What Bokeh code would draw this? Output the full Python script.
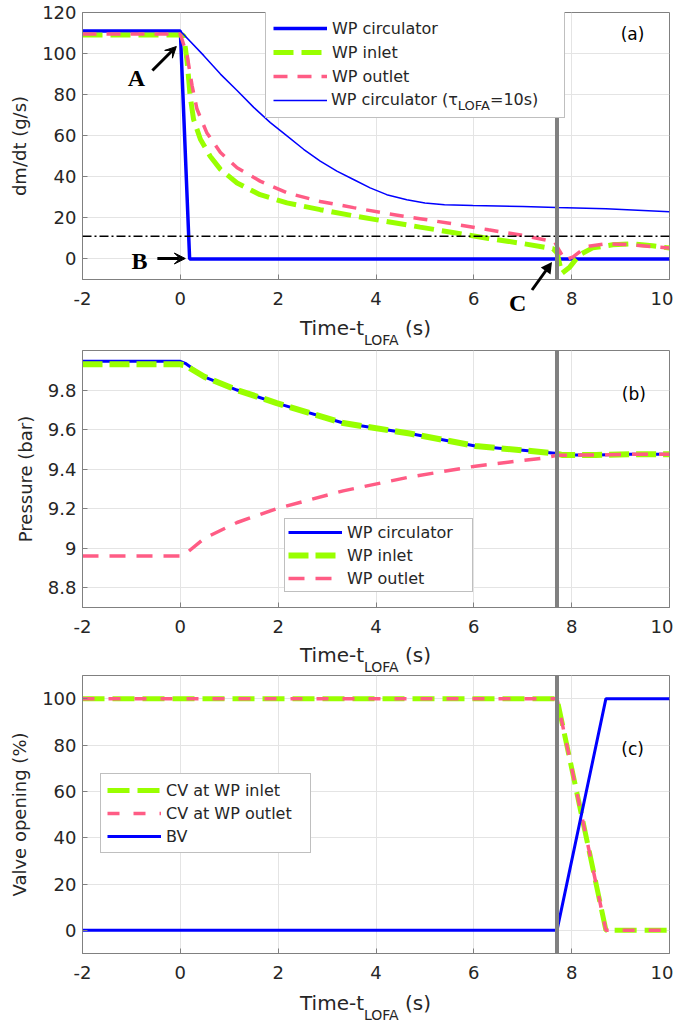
from bokeh.plotting import figure
from bokeh.models import (Range1d, FixedTicker, Span, Label, Arrow, VeeHead,
                          Legend, LegendItem, Div)
from bokeh.layouts import column
from bokeh.embed import file_html
from bokeh.resources import INLINE

# ---------------- data ----------------
time_ticks = [-2, 0, 2, 4, 6, 8, 10]
time_tick_labels = ["-2", "0", "2", "4", "6", "8", "10"]
mdot_ticks = [0, 20, 40, 60, 80, 100, 120]
mdot_tick_labels = ["0", "20", "40", "60", "80", "100", "120"]
pressure_ticks = [8.8, 9, 9.2, 9.4, 9.6, 9.8]
pressure_tick_labels = ["8.8", "9", "9.2", "9.4", "9.6", "9.8"]
valve_ticks = [0, 20, 40, 60, 80, 100]
valve_tick_labels = ["0", "20", "40", "60", "80", "100"]

t_bypass = 7.7
mdot_threshold = 11

# (a) mass flow rate
t_circ = [-2, 0, 0.19, 10]
mdot_circ = [111, 111, 0, 0]
t_inlet = [-2, 0, 0.07, 0.14, 0.2, 0.27, 0.41, 0.61, 0.82, 1.16, 1.63, 2.18, 2.86,
           3.54, 4.2, 4.9, 5.6, 6.3, 7.0, 7.62, 7.7, 7.8, 7.96, 8.16, 8.43, 8.84,
           9.24, 9.65, 10]
mdot_inlet = [109, 109, 108.9, 95.8, 79.5, 68, 58.3, 50, 43.6, 37, 31.3, 27.3, 24,
              21, 18.3, 15.5, 12.8, 10, 7.5, 5, 3, -7, -4, 2, 5.4, 6.9,
              7.4, 6.4, 5.3]
t_outlet = [-2, 0, 0.14, 0.24, 0.34, 0.54, 0.82, 1.16, 1.63, 2.18, 2.86, 3.54, 4.2,
            4.9, 5.6, 6.3, 7.0, 7.65, 7.75, 7.86, 8.03, 8.3, 8.71, 9.24, 10]
mdot_outlet = [109.5, 109.5, 99, 84.4, 73, 61.5, 51.8, 44.4, 37.9, 32.2, 28, 25, 22.2,
               19.6, 17, 14.2, 11.5, 8.4, 4, -0.5, 1, 6, 7.4, 6.9, 5.3]
t_tau = [-2, 0, 0.48, 0.82, 1.16, 1.5, 1.84, 2.18, 2.52, 2.86, 3.2, 3.54, 3.88, 4.22,
         4.63, 5.0, 5.4, 5.98, 7.0, 7.69, 8.7, 10]
mdot_tau = [111, 111, 99, 90, 82, 73.8, 66.4, 59.9, 53.4, 47.6, 42.8, 38.7, 34.6, 31.3,
            28.8, 27.3, 26.4, 26, 25.5, 25, 24.5, 23]

# (b) pressure
t_p = [-2, 0, 0.1, 0.49, 1.16, 1.97, 3.33, 4.69, 6.03, 7.0, 7.66, 7.8, 8.5, 9.2, 10]
p_circ = [9.945, 9.945, 9.935, 9.867, 9.8, 9.734, 9.633, 9.58, 9.517, 9.495, 9.48,
          9.472, 9.472, 9.475, 9.475]
p_inlet = [9.93, 9.93, 9.925, 9.867, 9.8, 9.734, 9.633, 9.58, 9.517, 9.495, 9.48,
           9.472, 9.472, 9.475, 9.475]
t_p_out = [-2, 0, 0.1, 0.49, 1.16, 1.97, 3.33, 4.69, 6.03, 7.39, 7.7, 8.5, 9.2, 10]
p_outlet = [8.96, 8.96, 8.97, 9.05, 9.13, 9.2, 9.29, 9.36, 9.415, 9.455, 9.47,
            9.472, 9.475, 9.475]

# (c) valve opening
t_valve = [-2, 7.7, 8.7, 10]
cv_inlet = [100, 100, 0, 0]
cv_outlet = [100, 100, 0, 0]
bv_open = [0, 0, 100, 100]

# ---------------- style ----------------
FONT = "DejaVu Sans"
BLUE = "#0000FF"
GREEN = "#99FF00"
PINK = "#FF5C85"
AX = "#808080"
TXT = "#262626"
W = 673


def make_fig(height, top, bottom, left, right, yr, yticks, ylabels, ylabel):
    p = figure(width=W, height=height, x_range=Range1d(-2, 10), y_range=Range1d(*yr),
               output_backend="svg", toolbar_location=None,
               min_border_top=top, min_border_bottom=bottom,
               min_border_left=left, min_border_right=right, margin=0)
    p.xaxis.ticker = FixedTicker(ticks=time_ticks)
    p.xaxis.major_label_overrides = dict(zip(time_ticks, time_tick_labels))
    p.yaxis.ticker = FixedTicker(ticks=yticks)
    p.yaxis.major_label_overrides = dict(zip(yticks, ylabels))
    for ax in (p.xaxis, p.yaxis):
        ax.major_label_text_font = FONT
        ax.major_label_text_font_size = "18px"
        ax.major_label_text_color = TXT
        ax.major_tick_in = 5
        ax.major_tick_out = 0
        ax.minor_tick_in = 0
        ax.minor_tick_out = 0
        ax.major_tick_line_color = AX
        ax.axis_line_color = AX
    p.xaxis.major_label_standoff = 12
    p.yaxis.major_label_standoff = 6
    p.yaxis.axis_label = ylabel
    p.yaxis.axis_label_text_font = FONT
    p.yaxis.axis_label_text_font_size = "18px"
    p.yaxis.axis_label_text_font_style = "normal"
    p.yaxis.axis_label_text_color = TXT
    p.yaxis.axis_label_standoff = 9
    p.grid.grid_line_color = "#e4e4e4"
    p.outline_line_color = AX
    p.outline_line_alpha = 1
    return p


def to_data(geom, px, py):
    l, r, t, b, x0, x1, y0, y1 = geom
    return x0 + (px - l) / (r - l) * (x1 - x0), y0 + (b - py) / (b - t) * (y1 - y0)


def xlabel_div(height, top, extra=""):
    html = ('<div style="position:relative;width:%dpx;height:%dpx;overflow:visible;">'
            '<span style="position:absolute;left:300px;top:%dpx;white-space:nowrap;'
            "font-family:'DejaVu Sans';font-size:20px;line-height:20px;color:#262626;\">"
            'Time-t<sub style="font-size:14px;vertical-align:baseline;position:relative;'
            'top:10px;">LOFA</sub> (s)</span>%s</div>') % (W, height, top, extra)
    return Div(text=html, width=W, height=height, margin=0,
               styles={"overflow": "visible"})


def add_tag(p, geom, px, py, text):
    x, y = to_data(geom, px, py)
    p.add_layout(Label(x=x, y=y, text=text, text_align="center", text_baseline="middle",
                       text_font=FONT, text_font_size="17px", text_color="black"))


def make_legend(items, loc, padding, spacing, label_width):
    return Legend(items=items, location=loc, margin=0, padding=padding, spacing=spacing,
                  glyph_width=54, glyph_height=20, label_height=20, label_standoff=5,
                  label_width=label_width,
                  label_text_font=FONT, label_text_font_size="16px", label_text_color=TXT,
                  border_line_color=AX, border_line_width=1, background_fill_alpha=1)


# ---------------- panel (a) ----------------
GA = (82, 670, 12, 279, -2, 10, -10, 120)
pa = make_fig(315, 12, 36, 82, 3, (-10, 120), mdot_ticks, mdot_tick_labels, "dm/dt (g/s)")
ra1 = pa.line(t_circ, mdot_circ, line_color=BLUE, line_width=3.5)
ra2 = pa.line(t_inlet, mdot_inlet, line_color=GREEN, line_width=5, line_dash="20 8")
ra3 = pa.line(t_outlet, mdot_outlet, line_color=PINK, line_width=3.5, line_dash="14 10")
ra4 = pa.line(t_tau, mdot_tau, line_color=BLUE, line_width=1.5)
pa.add_layout(Span(location=mdot_threshold, dimension="width", line_color="black",
                   line_width=1.5, line_dash="9 3 2 3"))
pa.add_layout(Span(location=t_bypass, dimension="height", line_color="#808080", line_width=4))
pa.add_layout(make_legend([LegendItem(label="WP circulator", renderers=[ra1]),
                           LegendItem(label="WP inlet", renderers=[ra2]),
                           LegendItem(label="WP outlet", renderers=[ra3]),
                           LegendItem(label=" ", renderers=[ra4])],
                          (183, 161), 7, 4, 225))
add_tag(pa, GA, 633, 33, "(a)")

# annotations A, B (inside the frame)
for (lx, ly, txt, sx, sy, ex, ey) in [(136, 77, "A", 152, 70, 176, 46),
                                      (139, 260, "B", 157, 258, 185, 258)]:
    x, y = to_data(GA, lx, ly)
    pa.add_layout(Label(x=x, y=y, text=txt, text_align="center", text_baseline="middle",
                        text_font="Liberation Serif", text_font_style="bold",
                        text_font_size="24px", text_color="black"))
    x0, y0 = to_data(GA, sx, sy)
    x1, y1 = to_data(GA, ex, ey)
    pa.add_layout(Arrow(x_start=x0, y_start=y0, x_end=x1, y_end=y1, line_width=3,
                        line_color="black",
                        end=VeeHead(size=11, fill_color="black", line_color="black")))

# HTML overlays drawn from the strip below panel (a):
# the 4th legend label (with subscript), and "C" with its arrow below the frame
legend4 = ('<span style="position:absolute;left:331px;top:-223px;white-space:nowrap;'
           "font-family:'DejaVu Sans';font-size:16px;line-height:16px;color:#262626;\">"
           'WP circulator (\u03c4<sub style="font-size:13px;vertical-align:baseline;'
           'position:relative;top:5px;">LOFA</sub>=10s)</span>')
c_extra = ('<span style="position:absolute;left:509px;top:-24px;font-family:\'Liberation Serif\';'
           'font-weight:bold;font-size:24px;line-height:24px;color:black;">C</span>'
           '<svg style="position:absolute;left:0px;top:0px;overflow:visible;" width="1" height="1">'
           '<line x1="532" y1="-25" x2="546" y2="-44.5" stroke="black" stroke-width="3"/>'
           '<polygon points="552,-53 550.5,-40.5 540.8,-47.5" fill="black"/></svg>')
da = xlabel_div(33, 3, legend4 + c_extra)

# ---------------- panel (b) ----------------
GB = (77, 669, 350, 607, -2, 10, 8.7, 10.0)
pb = make_fig(295, 2, 36, 77, 4, (8.7, 10.0), pressure_ticks, pressure_tick_labels,
              "Pressure (bar)")
rb1 = pb.line(t_p, p_circ, line_color=BLUE, line_width=3)
rb2 = pb.line(t_p, p_inlet, line_color=GREEN, line_width=6, line_dash="20 7")
rb3 = pb.line(t_p_out, p_outlet, line_color=PINK, line_width=3.5, line_dash="16 11")
pb.add_layout(Span(location=t_bypass, dimension="height", line_color="#808080", line_width=4))
pb.add_layout(make_legend([LegendItem(label="WP circulator", renderers=[rb1]),
                           LegendItem(label="WP inlet", renderers=[rb2]),
                           LegendItem(label="WP outlet", renderers=[rb3])],
                          (202, 15), 3, 3, 122))
add_tag(pb, GB, 633, 393, "(b)")
db = xlabel_div(31, 2)

# ---------------- panel (c) ----------------
GC = (82, 670, 675, 953, -2, 10, -10, 110)
pc = make_fig(315, 1, 36, 82, 3, (-10, 110), valve_ticks, valve_tick_labels,
              "Valve opening (%)")
rc1 = pc.line(t_valve, cv_inlet, line_color=GREEN, line_width=5, line_dash="22 8")
rc2 = pc.line(t_valve, cv_outlet, line_color=PINK, line_width=3.5, line_dash="12 14")
rc3 = pc.line(t_valve, bv_open, line_color=BLUE, line_width=3)
pc.add_layout(Span(location=t_bypass, dimension="height", line_color="#808080", line_width=4))
pc.add_layout(make_legend([LegendItem(label="CV at WP inlet", renderers=[rc1]),
                           LegendItem(label="CV at WP outlet", renderers=[rc2]),
                           LegendItem(label="BV", renderers=[rc3])],
                          (18, 100), 6, 3, 138))
add_tag(pc, GC, 633, 748, "(c)")
dc = xlabel_div(32, 4)

layout = column(pa, da, pb, db, pc, dc, spacing=0)
open("out.html", "w").write(file_html(layout, INLINE))
